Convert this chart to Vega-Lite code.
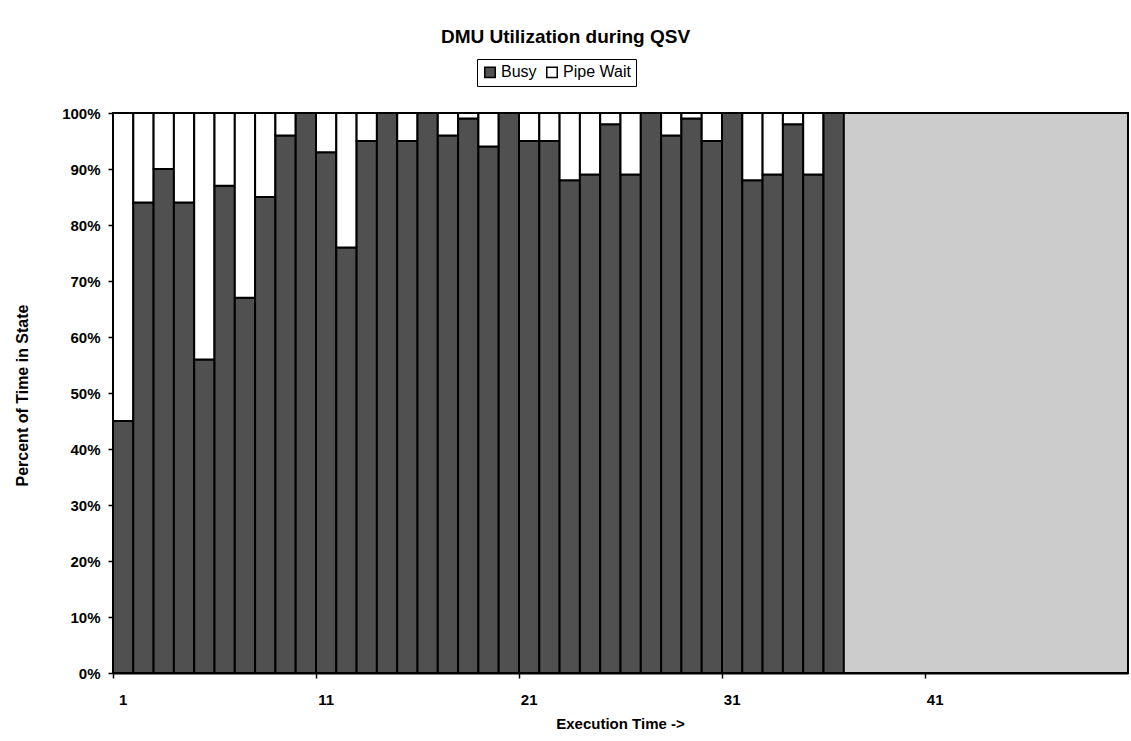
{
  "$schema": "https://vega.github.io/schema/vega-lite/v6.json",
  "width": 1015,
  "height": 560,
  "autosize": {"type": "none"},
  "padding": {"left": 113, "top": 113, "right": 3, "bottom": 68},
  "background": "white",
  "title": {
    "text": "DMU Utilization during QSV",
    "font": "Liberation Sans",
    "fontSize": 19,
    "fontWeight": "bold",
    "color": "black",
    "anchor": "middle",
    "baseline": "alphabetic",
    "dx": -55,
    "dy": 32,
    "offset": 29
  },
  "data": {
    "values": [
      {"t": 1, "state": "Busy", "pct": 45}, {"t": 1, "state": "Pipe Wait", "pct": 55},
      {"t": 2, "state": "Busy", "pct": 84}, {"t": 2, "state": "Pipe Wait", "pct": 16},
      {"t": 3, "state": "Busy", "pct": 90}, {"t": 3, "state": "Pipe Wait", "pct": 10},
      {"t": 4, "state": "Busy", "pct": 84}, {"t": 4, "state": "Pipe Wait", "pct": 16},
      {"t": 5, "state": "Busy", "pct": 56}, {"t": 5, "state": "Pipe Wait", "pct": 44},
      {"t": 6, "state": "Busy", "pct": 87}, {"t": 6, "state": "Pipe Wait", "pct": 13},
      {"t": 7, "state": "Busy", "pct": 67}, {"t": 7, "state": "Pipe Wait", "pct": 33},
      {"t": 8, "state": "Busy", "pct": 85}, {"t": 8, "state": "Pipe Wait", "pct": 15},
      {"t": 9, "state": "Busy", "pct": 96}, {"t": 9, "state": "Pipe Wait", "pct": 4},
      {"t": 10, "state": "Busy", "pct": 100}, {"t": 10, "state": "Pipe Wait", "pct": 0},
      {"t": 11, "state": "Busy", "pct": 93}, {"t": 11, "state": "Pipe Wait", "pct": 7},
      {"t": 12, "state": "Busy", "pct": 76}, {"t": 12, "state": "Pipe Wait", "pct": 24},
      {"t": 13, "state": "Busy", "pct": 95}, {"t": 13, "state": "Pipe Wait", "pct": 5},
      {"t": 14, "state": "Busy", "pct": 100}, {"t": 14, "state": "Pipe Wait", "pct": 0},
      {"t": 15, "state": "Busy", "pct": 95}, {"t": 15, "state": "Pipe Wait", "pct": 5},
      {"t": 16, "state": "Busy", "pct": 100}, {"t": 16, "state": "Pipe Wait", "pct": 0},
      {"t": 17, "state": "Busy", "pct": 96}, {"t": 17, "state": "Pipe Wait", "pct": 4},
      {"t": 18, "state": "Busy", "pct": 99}, {"t": 18, "state": "Pipe Wait", "pct": 1},
      {"t": 19, "state": "Busy", "pct": 94}, {"t": 19, "state": "Pipe Wait", "pct": 6},
      {"t": 20, "state": "Busy", "pct": 100}, {"t": 20, "state": "Pipe Wait", "pct": 0},
      {"t": 21, "state": "Busy", "pct": 95}, {"t": 21, "state": "Pipe Wait", "pct": 5},
      {"t": 22, "state": "Busy", "pct": 95}, {"t": 22, "state": "Pipe Wait", "pct": 5},
      {"t": 23, "state": "Busy", "pct": 88}, {"t": 23, "state": "Pipe Wait", "pct": 12},
      {"t": 24, "state": "Busy", "pct": 89}, {"t": 24, "state": "Pipe Wait", "pct": 11},
      {"t": 25, "state": "Busy", "pct": 98}, {"t": 25, "state": "Pipe Wait", "pct": 2},
      {"t": 26, "state": "Busy", "pct": 89}, {"t": 26, "state": "Pipe Wait", "pct": 11},
      {"t": 27, "state": "Busy", "pct": 100}, {"t": 27, "state": "Pipe Wait", "pct": 0},
      {"t": 28, "state": "Busy", "pct": 96}, {"t": 28, "state": "Pipe Wait", "pct": 4},
      {"t": 29, "state": "Busy", "pct": 99}, {"t": 29, "state": "Pipe Wait", "pct": 1},
      {"t": 30, "state": "Busy", "pct": 95}, {"t": 30, "state": "Pipe Wait", "pct": 5},
      {"t": 31, "state": "Busy", "pct": 100}, {"t": 31, "state": "Pipe Wait", "pct": 0},
      {"t": 32, "state": "Busy", "pct": 88}, {"t": 32, "state": "Pipe Wait", "pct": 12},
      {"t": 33, "state": "Busy", "pct": 89}, {"t": 33, "state": "Pipe Wait", "pct": 11},
      {"t": 34, "state": "Busy", "pct": 98}, {"t": 34, "state": "Pipe Wait", "pct": 2},
      {"t": 35, "state": "Busy", "pct": 89}, {"t": 35, "state": "Pipe Wait", "pct": 11},
      {"t": 36, "state": "Busy", "pct": 100}, {"t": 36, "state": "Pipe Wait", "pct": 0}
    ]
  },
  "mark": {"type": "bar", "stroke": "black", "strokeWidth": 2},
  "encoding": {
    "x": {
      "field": "t",
      "type": "ordinal",
      "scale": {
        "domain": [1,2,3,4,5,6,7,8,9,10,11,12,13,14,15,16,17,18,19,20,21,22,23,24,25,26,27,28,29,30,31,32,33,34,35,36,37,38,39,40,41,42,43,44,45,46,47,48,49,50],
        "paddingInner": 0,
        "paddingOuter": 0
      },
      "axis": {
        "title": "Execution Time ->",
        "values": [1, 11, 21, 31, 41],
        "bandPosition": 0,
        "labelAngle": 0,
        "labelPadding": 14,
        "tickSize": 5,
        "titleX": 507,
        "titleY": 50,
        "titleBaseline": "middle"
      }
    },
    "y": {
      "field": "pct",
      "type": "quantitative",
      "stack": "zero",
      "scale": {"domain": [0, 100]},
      "axis": {
        "title": "Percent of Time in State",
        "values": [0, 10, 20, 30, 40, 50, 60, 70, 80, 90, 100],
        "labelExpr": "datum.value + '%'",
        "tickSize": 5,
        "labelPadding": 8,
        "grid": false,
        "titleAngle": 270,
        "titleX": -91,
        "titleY": 282,
        "titleFontSize": 16,
        "titleAlign": "center",
        "titleBaseline": "middle"
      }
    },
    "color": {
      "field": "state",
      "type": "nominal",
      "scale": {"domain": ["Busy", "Pipe Wait"], "range": ["#505050", "#ffffff"]},
      "legend": {
        "title": null,
        "orient": "none",
        "direction": "horizontal",
        "legendX": 364,
        "legendY": -54,
        "strokeColor": "black",
        "fillColor": "white",
        "padding": 5,
        "symbolType": "square",
        "symbolSize": 110,
        "symbolStrokeColor": "black",
        "symbolStrokeWidth": 1.5,
        "symbolOpacity": 1,
        "labelFont": "Liberation Sans",
        "labelFontSize": 16,
        "labelColor": "black",
        "columnPadding": 6,
        "labelOffset": 3
      }
    },
    "order": {"field": "state", "sort": "ascending"}
  },
  "config": {
    "view": {"stroke": "black", "strokeWidth": 2, "fill": "#cccccc"},
    "axis": {
      "labelFont": "Liberation Sans",
      "labelFontSize": 15,
      "labelFontWeight": "bold",
      "labelColor": "black",
      "titleFont": "Liberation Sans",
      "titleFontSize": 15,
      "titleFontWeight": "bold",
      "titleColor": "black",
      "domainColor": "black",
      "domainWidth": 2,
      "tickColor": "black",
      "tickWidth": 1.5
    }
  }
}
